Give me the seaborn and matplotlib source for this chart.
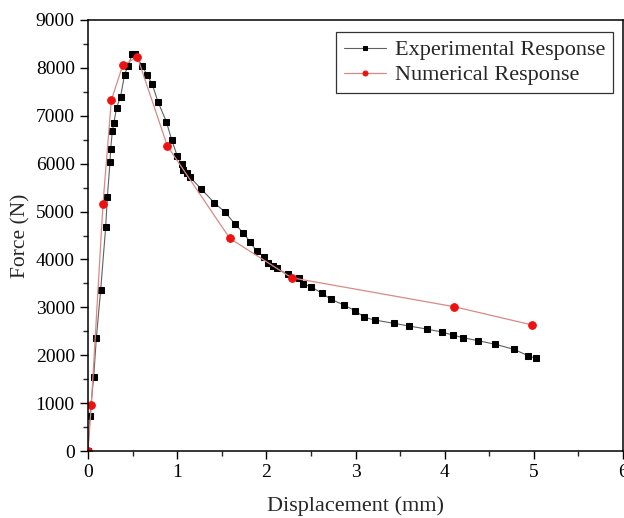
import matplotlib
matplotlib.use("Agg")
import matplotlib.pyplot as plt
import seaborn as sns
import pandas as pd
from matplotlib.ticker import MultipleLocator

exp_x = [0, 0.022, 0.064, 0.093, 0.142, 0.198, 0.217, 0.247, 0.254, 0.273, 0.29, 0.32,
         0.366, 0.41, 0.448, 0.497, 0.523, 0.61, 0.66, 0.72, 0.785, 0.878, 0.94, 1.0,
         1.05, 1.07, 1.106, 1.14, 1.267, 1.416, 1.536, 1.651, 1.741, 1.816, 1.89, 1.973,
         2.02, 2.07, 2.12, 2.24, 2.365, 2.414, 2.5, 2.627, 2.72, 2.87, 2.997, 3.098,
         3.217, 3.43, 3.6, 3.797, 3.97, 4.09, 4.21, 4.375, 4.57, 4.776, 4.936, 5.02]
exp_y = [0, 740, 1550, 2350, 3360, 4670, 5300, 6040, 6300, 6680, 6850, 7170,
         7400, 7860, 8040, 8290, 8290, 8040, 7860, 7660, 7290, 6880, 6490, 6165,
         5985, 5866, 5797, 5727, 5476, 5184, 4990, 4733, 4557, 4370, 4178, 4053,
         3918, 3862, 3814, 3689, 3618, 3486, 3430, 3292, 3173, 3048, 2929, 2791,
         2735, 2666, 2610, 2547, 2484, 2422, 2365, 2303, 2228, 2123, 1990, 1935]

num_x = [0, 0.037, 0.168, 0.262, 0.389, 0.553, 0.89, 1.59, 2.283, 4.107, 4.985]
num_y = [0, 960, 5160, 7330, 8050, 8230, 6370, 4440, 3618, 3013, 2630]

labels = ["Experimental Response", "Numerical Response"]

sns.set_style("ticks")
plt.rcParams['font.family'] = ['Liberation Serif', 'DejaVu Serif']
plt.rcParams['mathtext.fontset'] = 'stix'

fig = plt.figure(figsize=(6.24, 5.18), dpi=100)
ax = fig.add_axes([88/624, (518-451)/518, (623-88)/624, (451-20)/518])

df_exp = pd.DataFrame({"x": exp_x, "y": exp_y})
df_num = pd.DataFrame({"x": num_x, "y": num_y})

sns.lineplot(data=df_exp, x="x", y="y", ax=ax, sort=False, estimator=None,
             color="#606060", linewidth=0.8, marker="s", markersize=4.6,
             markerfacecolor="black", markeredgecolor="black", label=labels[0])
sns.lineplot(data=df_num, x="x", y="y", ax=ax, sort=False, estimator=None,
             color="#d98a84", linewidth=0.9, marker="o", markersize=5.5,
             markerfacecolor="#ee1111", markeredgecolor="#ee1111", label=labels[1])

ax.set_xlim(0, 6)
ax.set_ylim(0, 9000)
ax.xaxis.set_major_locator(MultipleLocator(1))
ax.xaxis.set_minor_locator(MultipleLocator(0.5))
ax.yaxis.set_major_locator(MultipleLocator(1000))
ax.yaxis.set_minor_locator(MultipleLocator(500))
ax.tick_params(which="major", direction="out", length=6, width=1, labelsize=14, colors="black")
ax.tick_params(which="minor", direction="out", length=3.5, width=1)
ax.tick_params(top=False, right=False, which="both")
for s in ax.spines.values():
    s.set_color("black")
    s.set_linewidth(1.1)

ax.set_xlabel("Displacement (mm)", fontsize=16, labelpad=11)
ax.set_ylabel("Force (N)", fontsize=15.5, labelpad=4)

leg = ax.legend(loc="upper right", bbox_to_anchor=(0.982, 0.972), fontsize=16,
                frameon=True, fancybox=False, edgecolor="#333333", framealpha=1,
                markerscale=0.65, handlelength=1.9, handletextpad=0.4,
                borderpad=0.35, labelspacing=0.2, borderaxespad=0)
leg.get_frame().set_linewidth(0.9)

fig.savefig("out.png", dpi=100)
